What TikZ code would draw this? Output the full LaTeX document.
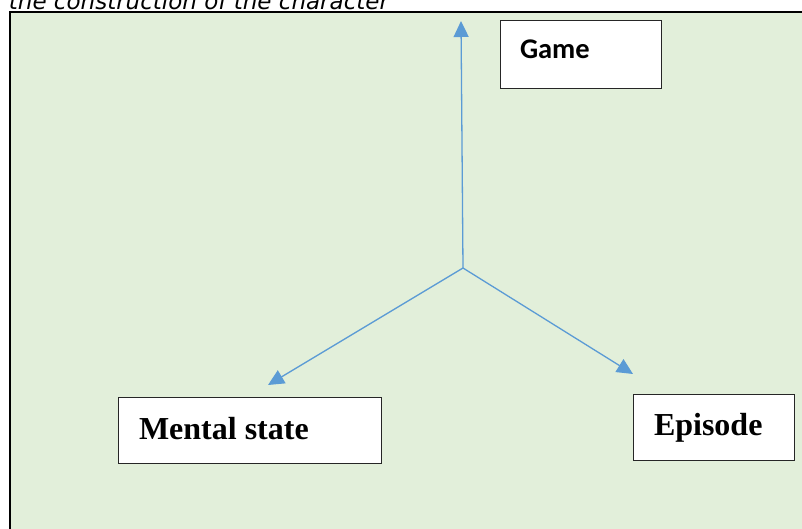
\documentclass[tikz,border=0pt]{standalone}
\usepackage{fontspec}
\setmainfont{Liberation Serif}
\newfontfamily\carl{Carlito}
\newfontfamily\capfont{DejaVu Sans}
\usetikzlibrary{arrows.meta}
\definecolor{bgreen}{HTML}{E2EFDA}
\definecolor{ablue}{HTML}{5B9BD5}
\tikzset{
  boxnode/.style={draw=black!85, line width=1pt, fill=white, inner sep=0pt, outer sep=0pt},
  conn/.style={draw=ablue, line width=1.3pt, -{Triangle[length=16pt,width=15pt]}},
  lbl/.style={inner sep=0pt, outer sep=0pt, anchor=base west}
}
\begin{document}
\begin{tikzpicture}[x=1pt,y=-1pt]
\useasboundingbox (0,0) rectangle (802,529);
\fill[white] (0,0) rectangle (802,529);
\draw[fill=bgreen, line width=2pt] (10,12) rectangle (812,540);
\node[lbl, anchor=base east, font={\capfont\itshape\fontsize{23}{25}\selectfont}] (cap) at (389,10) {of the construction of the character};
% boxes
\node[boxnode, minimum width=161pt, minimum height=68pt, anchor=north west] (game) at (500,21) {};
\node[boxnode, minimum width=263pt, minimum height=66pt, anchor=north west] (mental) at (118,397) {};
\node[boxnode, minimum width=161pt, minimum height=66pt, anchor=north west] (episode) at (633,394) {};
\node[lbl, font={\carl\bfseries\fontsize{28.5}{30}\selectfont}] (gamet) at (520,59) {Game};
\node[lbl, font={\bfseries\fontsize{32}{34}\selectfont}] (mentalt) at (139,439) {Mental state};
\node[lbl, font={\bfseries\fontsize{32}{34}\selectfont}] (episodet) at (654,435) {Episode};
% connectors
\coordinate (c) at (463,268);
\coordinate (tg) at (461,21);
\coordinate (tm) at (268,385);
\coordinate (te) at (633,374);
\draw[conn] (c) -- (tg);
\draw[conn] (c) -- (tm);
\draw[conn] (c) -- (te);
\end{tikzpicture}
\end{document}
